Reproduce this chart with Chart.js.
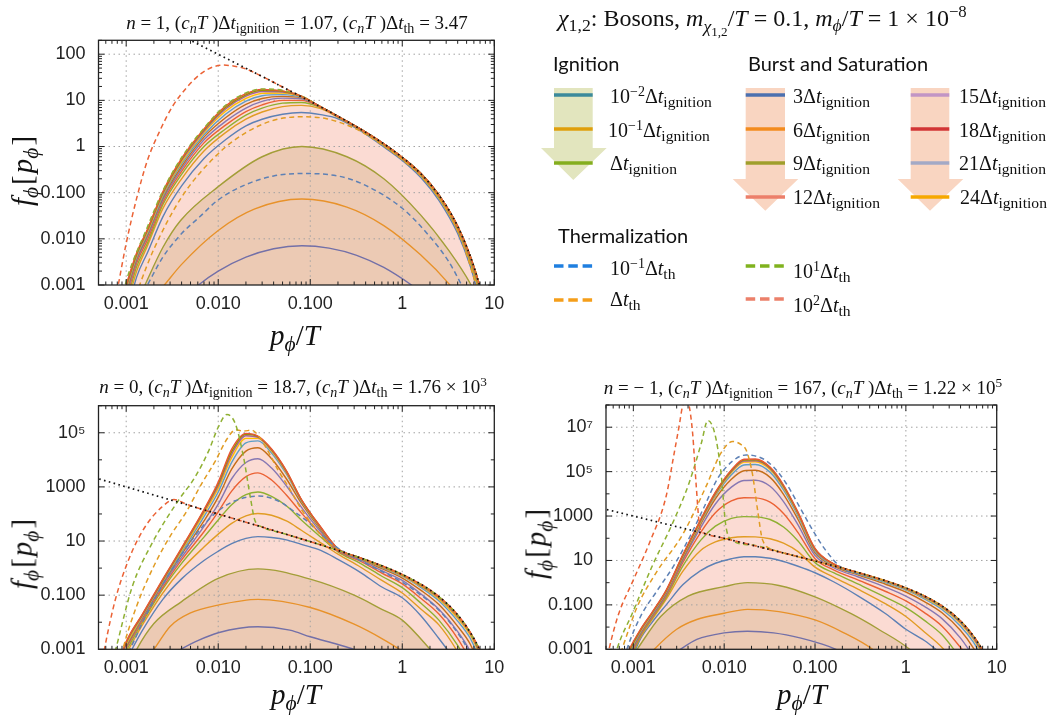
<!DOCTYPE html>
<html>
<head>
<meta charset="utf-8">
<script src="https://cdn.jsdelivr.net/npm/chart.js@4.4.1/dist/chart.umd.min.js"></script>
<style>
  html, body { margin: 0; padding: 0; background: #fff; }
  #page { position: relative; width: 1050px; height: 715px; overflow: hidden;
          font-family: 'Liberation Serif', 'Times New Roman', serif; color: #111; }
  canvas { position: absolute; }
  .t { position: absolute; white-space: nowrap; transform: translate(-50%, -50%); }
  .l { position: absolute; white-space: nowrap; transform: translateY(-50%); }
  .rot { position: absolute; white-space: nowrap; transform: translate(-50%, -50%) rotate(-90deg); }
  sub { font-size: 74%; vertical-align: -0.32em; line-height: 0; }
  sup { font-size: 70%; vertical-align: 0.5em; line-height: 0; }
  .ttl { font-size: 19px; }
  .ax { font-size: 29px; }
  .ax .b { margin: 0 2px; }
  .hd { font-size: 20px; font-family: Lato, 'Open Sans', sans-serif; }
  .lg { font-size: 20px; }
  .lg sub { font-size: 78%; }
  .top { font-size: 24px; }
</style>
</head>
<body>
<div id="page">
  <canvas id="c1" width="510" height="300" style="left:0;top:30px"></canvas>
  <canvas id="c2" width="510" height="285" style="left:0;top:395px"></canvas>
  <canvas id="c3" width="500" height="285" style="left:520px;top:395px"></canvas>

  <!-- panel titles -->
  <div class="t ttl" style="left:297px;top:23px"><i>n</i> = 1, (<i>c</i><sub><i>n</i></sub><i>T</i> )Δ<i>t</i><sub>ignition</sub> = 1.07, (<i>c</i><sub><i>n</i></sub><i>T</i> )Δ<i>t</i><sub>th</sub> = 3.47</div>
  <div class="t ttl" style="left:293px;top:387px"><i>n</i> = 0, (<i>c</i><sub><i>n</i></sub><i>T</i> )Δ<i>t</i><sub>ignition</sub> = 18.7, (<i>c</i><sub><i>n</i></sub><i>T</i> )Δ<i>t</i><sub>th</sub> = 1.76 × 10<sup>3</sup></div>
  <div class="t ttl" style="left:803px;top:388px"><i>n</i> = − 1, (<i>c</i><sub><i>n</i></sub><i>T</i> )Δ<i>t</i><sub>ignition</sub> = 167, (<i>c</i><sub><i>n</i></sub><i>T</i> )Δ<i>t</i><sub>th</sub> = 1.22 × 10<sup>5</sup></div>

  <!-- axis titles -->
  <div class="t ax" style="left:295px;top:335px"><i>p</i><sub><i>ϕ</i></sub>/<i>T</i></div>
  <div class="t ax" style="left:296px;top:694px"><i>p</i><sub><i>ϕ</i></sub>/<i>T</i></div>
  <div class="t ax" style="left:802px;top:694px"><i>p</i><sub><i>ϕ</i></sub>/<i>T</i></div>
  <div class="rot ax" style="left:22px;top:170px"><i>f</i><sub><i>ϕ</i></sub><span class="b">[</span><i>p</i><sub><i>ϕ</i></sub><span class="b">]</span></div>
  <div class="rot ax" style="left:22px;top:553px"><i>f</i><sub><i>ϕ</i></sub><span class="b">[</span><i>p</i><sub><i>ϕ</i></sub><span class="b">]</span></div>
  <div class="rot ax" style="left:536px;top:543px"><i>f</i><sub><i>ϕ</i></sub><span class="b">[</span><i>p</i><sub><i>ϕ</i></sub><span class="b">]</span></div>

  <!-- legend block -->
  <svg style="position:absolute;left:0;top:0" width="1050" height="330">
    <polygon points="554,88 592.7,88 592.7,148 606.7,148 573.3,180 541,148 554,148" fill="#e2e5be"/>
    <polygon points="745.7,88 785,88 785,179 798.3,179 765.3,210.7 732.7,179 745.7,179" fill="#f9d5c1"/>
    <polygon points="910.7,88 949.3,88 949.3,179 963.3,179 930,210.7 897.7,179 910.7,179" fill="#f9d5c1"/>
    <g stroke-width="3.5">
      <line x1="554" x2="592.7" y1="95" y2="95" stroke="#3b8a9b"/>
      <line x1="554" x2="592.7" y1="129" y2="129" stroke="#df9f0c"/>
      <line x1="554" x2="592.7" y1="163" y2="163" stroke="#84ae1e"/>
      <line x1="745.7" x2="785" y1="95" y2="95" stroke="#4c70af"/>
      <line x1="745.7" x2="785" y1="129" y2="129" stroke="#f38b1e"/>
      <line x1="745.7" x2="785" y1="163" y2="163" stroke="#a09f2c"/>
      <line x1="745.7" x2="785" y1="197" y2="197" stroke="#ec7f6a"/>
      <line x1="910.7" x2="949.3" y1="95" y2="95" stroke="#c295c5"/>
      <line x1="910.7" x2="949.3" y1="129" y2="129" stroke="#d23535"/>
      <line x1="910.7" x2="949.3" y1="163" y2="163" stroke="#a3a9c6"/>
      <line x1="910.7" x2="949.3" y1="197" y2="197" stroke="#f6a800"/>
      <g stroke-dasharray="9.5 4.8">
        <line x1="554" x2="593" y1="266" y2="266" stroke="#1f7fe0"/>
        <line x1="554" x2="593" y1="300" y2="300" stroke="#f59e1a"/>
        <line x1="745.7" x2="785" y1="266" y2="266" stroke="#80b21e"/>
        <line x1="745.7" x2="785" y1="299" y2="299" stroke="#ec806a"/>
      </g>
    </g>
  </svg>
  <div class="l top" style="left:558px;top:18px"><i>χ</i><sub>1,2</sub>: Bosons, <i>m</i><sub><i>χ</i><sub>1,2</sub></sub>/<i>T</i> = 0.1, <i>m</i><sub><i>ϕ</i></sub>/<i>T</i> = 1 × 10<sup>−8</sup></div>
  <div class="l hd" style="left:553px;top:63px">Ignition</div>
  <div class="l hd" style="left:748px;top:63px">Burst and Saturation</div>
  <div class="l hd" style="left:558px;top:235px">Thermalization</div>

  <div class="l lg" style="left:610px;top:96px">10<sup>−2</sup>Δ<i>t</i><sub>ignition</sub></div>
  <div class="l lg" style="left:608px;top:130px">10<sup>−1</sup>Δ<i>t</i><sub>ignition</sub></div>
  <div class="l lg" style="left:610px;top:163px">Δ<i>t</i><sub>ignition</sub></div>
  <div class="l lg" style="left:793px;top:96px">3Δ<i>t</i><sub>ignition</sub></div>
  <div class="l lg" style="left:793px;top:130px">6Δ<i>t</i><sub>ignition</sub></div>
  <div class="l lg" style="left:793px;top:163px">9Δ<i>t</i><sub>ignition</sub></div>
  <div class="l lg" style="left:793px;top:197px">12Δ<i>t</i><sub>ignition</sub></div>
  <div class="l lg" style="left:959px;top:96px">15Δ<i>t</i><sub>ignition</sub></div>
  <div class="l lg" style="left:959px;top:130px">18Δ<i>t</i><sub>ignition</sub></div>
  <div class="l lg" style="left:959px;top:163px">21Δ<i>t</i><sub>ignition</sub></div>
  <div class="l lg" style="left:960px;top:197px">24Δ<i>t</i><sub>ignition</sub></div>
  <div class="l lg" style="left:610px;top:268px">10<sup>−1</sup>Δ<i>t</i><sub>th</sub></div>
  <div class="l lg" style="left:610px;top:299px">Δ<i>t</i><sub>th</sub></div>
  <div class="l lg" style="left:793px;top:271px">10<sup>1</sup>Δ<i>t</i><sub>th</sub></div>
  <div class="l lg" style="left:793px;top:305px">10<sup>2</sup>Δ<i>t</i><sub>th</sub></div>
</div>

<script>
// ---------- axis ticks ----------
const xTickVals = [0.001, 0.01, 0.1, 1, 10];
const xTickText = ['0.001', '0.010', '0.100', '1', '10'];
const p1YTickVals = [0.001, 0.01, 0.1, 1, 10, 100];
const p1YTickText = ['0.001', '0.010', '0.100', '1', '10', '100'];
const p2YTickVals = [0.001, 0.1, 10, 1000, 1e5];
const p2YTickText = ['0.001', '0.100', '10', '1000', '10⁵'];
const p3YTickVals = [0.001, 0.1, 10, 1000, 1e5, 1e7];
const p3YTickText = ['0.001', '0.100', '10', '1000', '10⁵', '10⁷'];

// ---------- thermal (black dotted) ----------
const thermal = [[0.0004, 2500], [0.001, 1000], [0.002, 500], [0.005, 200], [0.01, 99.5], [0.02, 49.5],
  [0.05, 19.5], [0.1, 9.5], [0.2, 4.52], [0.3, 2.86], [0.5, 1.54], [0.7, 0.99], [1, 0.582], [1.5, 0.287],
  [2, 0.156], [3, 0.0524], [4, 0.0187], [5, 0.0068], [6, 0.0025], [7, 0.00091], [8, 0.00034]];

// ---------- panel 1 (n = 1) ----------
const p1Ign1 = [[0.005, 0.0007], [0.0061, 0.001], [0.01, 0.002], [0.02, 0.004], [0.04, 0.0061], [0.081, 0.0071],
  [0.16, 0.0063], [0.32, 0.0044], [0.63, 0.0024], [1.26, 0.001], [1.6, 0.0007]];
const p1Ign2 = [[0.002, 0.00054], [0.0026, 0.001], [0.004, 0.0028], [0.01, 0.0152], [0.025, 0.0445], [0.081, 0.0728],
  [0.25, 0.0488], [0.63, 0.0194], [1.58, 0.0045], [3.2, 0.00107], [4, 0.0006]];
const p1Ign3 = [[0.0013, 0.0004], [0.0016, 0.001], [0.0025, 0.0065], [0.0039, 0.025], [0.01, 0.135], [0.03, 0.6],
  [0.081, 1.0], [0.25, 0.6], [0.63, 0.2], [1.58, 0.033], [3.2, 0.0056], [5.6, 0.001], [7, 0.0004]];
const p1ThBlue = [[0.0014, 0.0005], [0.0017, 0.001], [0.0025, 0.004], [0.004, 0.013], [0.0063, 0.03], [0.01, 0.07],
  [0.02, 0.15], [0.04, 0.23], [0.081, 0.26], [0.2, 0.23], [0.36, 0.158], [1, 0.046], [1.93, 0.012], [3.2, 0.0032],
  [4.4, 0.001], [5.2, 0.0005]];
const p1ThOrange = [[0.0012, 0.0004], [0.0014, 0.001], [0.002, 0.006], [0.004, 0.08], [0.01, 0.7], [0.02, 2.0],
  [0.04, 3.7], [0.08, 4.4], [0.15, 4.0], [0.3, 2.5], [0.5, 1.4], [1, 0.52], [2, 0.14], [4, 0.015], [6.3, 0.001], [7, 0.0004]];
const p1ThGreen = [[0.00085, 0.0003], [0.001, 0.0012], [0.0017, 0.018], [0.0025, 0.11], [0.004, 0.58], [0.007, 2.5],
  [0.012, 7.8], [0.02, 14.5], [0.03, 17.6], [0.05, 16.5], [0.08, 12.3], [0.13, 7.2], [0.2, 4.5], [0.5, 1.54],
  [1, 0.58], [2, 0.156], [4, 0.0187], [6, 0.0025], [7, 0.0009], [8, 0.00034]];
const p1ThRed = [[0.0007, 0.0002], [0.00082, 0.001], [0.001, 0.008], [0.0013, 0.076], [0.0017, 0.5], [0.00234, 2.27],
  [0.0032, 7.5], [0.0046, 19.5], [0.0065, 38], [0.0088, 53], [0.0115, 58], [0.015, 55], [0.02, 48], [0.03, 33],
  [0.05, 19.5], [0.1, 9.5], [0.2, 4.5], [0.5, 1.54], [1, 0.58], [2, 0.156], [3, 0.052], [4, 0.0187], [5, 0.0068],
  [6, 0.0025], [7, 0.0009], [8, 0.00034]];
const p1X = [0.0008, 0.001, 0.0013, 0.0017, 0.0025, 0.004, 0.007, 0.012, 0.02, 0.03, 0.05, 0.08, 0.13, 0.2, 0.35,
  0.6, 1, 1.6, 2.5, 4, 5.5, 7, 8];
const p1Burst = [
  [null, 0.0002, 0.0015, 0.005, 0.03, 0.14, 0.55, 1.4, 2.8, 3.9, 5.0, 5.45, 4.9, 4.0, 2.2, 1.05, 0.5, 0.21, 0.068, 0.013, 0.0025, 0.00045, 0.00015],
  [null, 0.0003, 0.002, 0.007, 0.045, 0.2, 0.8, 2.0, 3.9, 5.6, 7.3, 7.8, 6.6, 4.3, 2.3, 1.12, 0.53, 0.23, 0.076, 0.015, 0.003, 0.0006, 0.0002],
  [null, 0.0004, 0.0025, 0.008, 0.055, 0.25, 1.0, 2.4, 4.8, 6.8, 8.7, 9.0, 7.0, 4.4, 2.35, 1.16, 0.55, 0.24, 0.08, 0.016, 0.0034, 0.0007, 0.00022],
  [null, 0.0005, 0.003, 0.0095, 0.062, 0.29, 1.2, 2.9, 5.7, 8.0, 10.0, 10.0, 7.1, 4.45, 2.38, 1.19, 0.56, 0.25, 0.084, 0.017, 0.0037, 0.0008, 0.00026],
  [null, 0.0006, 0.0034, 0.011, 0.07, 0.33, 1.4, 3.5, 6.8, 9.5, 11.2, 10.8, 7.2, 4.5, 2.4, 1.2, 0.57, 0.255, 0.086, 0.0178, 0.0039, 0.00085, 0.0003],
  [null, 0.0007, 0.0037, 0.012, 0.077, 0.37, 1.6, 4.2, 8.2, 11.0, 12.2, 11.3, 7.2, 4.5, 2.4, 1.21, 0.575, 0.257, 0.087, 0.0182, 0.004, 0.00088, 0.00032],
  [null, 0.0008, 0.004, 0.013, 0.083, 0.42, 1.8, 5.0, 9.6, 12.6, 13.3, 11.7, 7.2, 4.5, 2.4, 1.21, 0.578, 0.258, 0.088, 0.0185, 0.0041, 0.0009, 0.00033],
  [null, 0.00085, 0.0043, 0.014, 0.09, 0.46, 2.0, 5.8, 11.0, 14.2, 14.4, 12.0, 7.2, 4.5, 2.4, 1.21, 0.58, 0.26, 0.089, 0.0186, 0.0041, 0.0009, 0.00034],
  [null, 0.0009, 0.0045, 0.015, 0.095, 0.5, 2.15, 6.5, 12.3, 15.5, 15.2, 12.2, 7.2, 4.5, 2.4, 1.22, 0.58, 0.26, 0.089, 0.0187, 0.0041, 0.0009, 0.00034],
  [null, 0.00095, 0.0047, 0.0155, 0.1, 0.53, 2.3, 7.0, 13.2, 16.5, 15.7, 12.3, 7.2, 4.5, 2.4, 1.22, 0.58, 0.26, 0.089, 0.0187, 0.0041, 0.0009, 0.00034],
  [0.0002, 0.001, 0.005, 0.016, 0.105, 0.55, 2.4, 7.5, 14.0, 17.3, 16.0, 12.3, 7.2, 4.5, 2.4, 1.22, 0.58, 0.26, 0.089, 0.0187, 0.0041, 0.0009, 0.00034]
];

// ---------- panel 2 (n = 0) ----------
const p2Ign1 = [[0.003, 0.0006], [0.0039, 0.001], [0.006, 0.0021], [0.01, 0.0041], [0.027, 0.0068], [0.06, 0.0051],
  [0.1, 0.0029], [0.2, 0.0015], [0.295, 0.001], [0.4, 0.0006]];
const p2Ign2 = [[0.0016, 0.0004], [0.002, 0.001], [0.003, 0.007], [0.005, 0.022], [0.01, 0.043], [0.027, 0.07],
  [0.1, 0.035], [0.3, 0.0085], [0.6, 0.0025], [0.93, 0.001], [1.2, 0.0005]];
const p2Ign3 = [[0.0011, 0.0003], [0.0013, 0.001], [0.002, 0.009], [0.004, 0.058], [0.01, 0.42], [0.027, 0.94],
  [0.1, 0.39], [0.3, 0.1], [0.6, 0.03], [1, 0.012], [2, 0.001], [2.5, 0.0004]];
const p2ThBlue = [[0.00095, 0.0004], [0.0011, 0.001], [0.0016, 0.015], [0.0025, 0.25], [0.004, 3.2], [0.007, 40],
  [0.01, 130], [0.015, 300], [0.0275, 460], [0.045, 300], [0.07, 110], [0.095, 50], [0.13, 18], [0.2, 5.5],
  [0.35, 1.9], [0.6, 0.75], [1, 0.3], [1.6, 0.1], [2.5, 0.028], [4, 0.004], [5, 0.0012], [5.5, 0.0006]];
const p2ThOrange = [[0.00085, 0.0003], [0.00092, 0.001], [0.0013, 0.04], [0.002, 1.2], [0.003, 15], [0.0045, 120],
  [0.0065, 1200], [0.0093, 9000], [0.0125, 60000], [0.0155, 130000], [0.019, 115000], [0.023, 125000], [0.028, 70000],
  [0.035, 20000], [0.045, 4000], [0.058, 1000], [0.081, 140], [0.113, 30], [0.16, 8], [0.22, 4.1], [0.35, 2.3],
  [0.6, 1.15], [1, 0.55], [1.6, 0.23], [2.5, 0.085], [4, 0.017], [5.5, 0.0037], [7, 0.0008], [8, 0.0003]];
const p2ThGreen = [[0.00068, 0.0002], [0.00077, 0.001], [0.00116, 0.2], [0.0019, 8], [0.0037, 320], [0.0056, 2300],
  [0.0079, 22000], [0.01, 160000], [0.0124, 470000], [0.0153, 220000], [0.0188, 13000], [0.0223, 425], [0.025, 59],
  [0.03, 33], [0.05, 19.5], [0.1, 9.5], [0.2, 4.5], [0.5, 1.54], [1, 0.58], [2, 0.155], [3, 0.051], [4, 0.0185],
  [5, 0.0067], [6, 0.0024], [7, 0.0009], [8, 0.0003]];
const p2ThRed = [[0.0005, 0.00005], [0.00058, 0.001], [0.00076, 0.066], [0.00106, 2.0], [0.0016, 33], [0.00245, 182],
  [0.0033, 340], [0.0045, 230], [0.006, 165], [0.01, 99], [0.02, 49.5], [0.05, 19.5], [0.1, 9.5], [0.2, 4.5],
  [0.5, 1.54], [1, 0.58], [2, 0.156], [3, 0.052], [4, 0.0187], [5, 0.0068], [6, 0.0025], [7, 0.0009], [8, 0.00034]];
const p2X = [0.0008, 0.001, 0.0015, 0.0025, 0.004, 0.007, 0.01, 0.014, 0.02, 0.027, 0.038, 0.055, 0.08, 0.13, 0.2,
  0.35, 0.6, 1, 1.6, 2.5, 4, 5.5, 7, 8];
const p2Burst = [
  [null, 0.0004, 0.005, 0.07, 0.4, 1.9, 4.2, 8, 12.5, 14.5, 13.5, 11, 7.5, 4.5, 2.1, 0.7, 0.2, 0.08, 0.017, 0.0025, 0.0003, null, null, null],
  [null, 0.0007, 0.008, 0.12, 0.9, 6, 18, 45, 85, 104, 90, 55, 25, 8.5, 3.3, 1.1, 0.35, 0.12, 0.03, 0.008, 0.0008, 0.0001, null, null],
  [null, 0.0009, 0.01, 0.17, 1.5, 14, 60, 220, 520, 650, 450, 200, 60, 14, 4.0, 1.5, 0.5, 0.19, 0.05, 0.012, 0.0014, 0.0002, null, null],
  [null, 0.0011, 0.012, 0.2, 2.0, 22, 120, 700, 2400, 3300, 1800, 500, 110, 18, 4.3, 1.8, 0.65, 0.26, 0.075, 0.02, 0.0025, 0.0004, null, null],
  [null, 0.0012, 0.014, 0.24, 2.5, 35, 230, 2000, 8000, 11000, 5000, 1100, 180, 22, 4.6, 2.0, 0.8, 0.35, 0.11, 0.03, 0.0045, 0.0008, 0.0001, null],
  [null, 0.0013, 0.015, 0.27, 3.2, 55, 420, 4500, 21000, 28000, 11000, 2000, 250, 26, 4.8, 2.2, 0.95, 0.43, 0.15, 0.045, 0.007, 0.0015, 0.0002, null],
  [null, 0.0015, 0.016, 0.3, 3.8, 80, 650, 8000, 42000, 50000, 18000, 3000, 300, 29, 5.0, 2.3, 1.05, 0.5, 0.19, 0.062, 0.011, 0.0025, 0.0004, null],
  [null, 0.0016, 0.017, 0.33, 4.4, 105, 900, 12000, 62000, 62000, 21000, 3400, 320, 30, 5.1, 2.35, 1.1, 0.53, 0.21, 0.072, 0.014, 0.0033, 0.0006, 0.0002],
  [0.0002, 0.0017, 0.018, 0.35, 5.0, 125, 1100, 16000, 78000, 68000, 23000, 3600, 330, 31, 5.15, 2.38, 1.12, 0.55, 0.22, 0.08, 0.016, 0.0037, 0.0007, 0.00025],
  [0.0002, 0.0018, 0.019, 0.37, 5.3, 135, 1300, 20000, 88000, 72000, 24000, 3800, 340, 32, 5.2, 2.4, 1.15, 0.56, 0.23, 0.085, 0.0175, 0.004, 0.0008, 0.0003],
  [0.0002, 0.0019, 0.02, 0.39, 5.6, 145, 1500, 25000, 95000, 75000, 25000, 4000, 350, 33, 5.2, 2.4, 1.2, 0.57, 0.24, 0.088, 0.0187, 0.0041, 0.0009, 0.00034]
];

// ---------- panel 3 (n = -1) ----------
const p3Ign1 = [[0.0026, 0.0005], [0.0033, 0.001], [0.005, 0.0028], [0.01, 0.0055], [0.018, 0.0065], [0.035, 0.0055],
  [0.07, 0.0032], [0.12, 0.0017], [0.17, 0.001], [0.22, 0.0006]];
const p3Ign2 = [[0.0014, 0.0004], [0.0017, 0.001], [0.003, 0.008], [0.005, 0.022], [0.01, 0.042], [0.018, 0.063],
  [0.04, 0.05], [0.1, 0.021], [0.2, 0.006], [0.43, 0.001], [0.55, 0.0004]];
const p3Ign3 = [[0.0009, 0.0003], [0.0011, 0.001], [0.002, 0.03], [0.004, 0.25], [0.01, 0.66], [0.018, 1.0],
  [0.04, 0.75], [0.1, 0.23], [0.25, 0.04], [0.5, 0.008], [1.1, 0.001], [1.3, 0.0005]];
const p3ThBlue = [[0.0008, 0.0004], [0.00085, 0.001], [0.0012, 0.03], [0.0018, 0.4], [0.0028, 6], [0.0042, 120],
  [0.006, 2500], [0.0085, 50000], [0.0124, 300000], [0.0174, 560000], [0.026, 400000], [0.035, 160000], [0.048, 30000],
  [0.07, 2000], [0.094, 235], [0.13, 30], [0.2, 4.4], [0.35, 2.3], [0.6, 1.15], [1, 0.55], [1.6, 0.23], [2.5, 0.083],
  [4, 0.017], [5.5, 0.0037], [7, 0.0008], [8, 0.0003]];
const p3ThOrange = [[0.00068, 0.0003], [0.00075, 0.001], [0.0011, 0.08], [0.0018, 3], [0.0035, 150], [0.0063, 21000],
  [0.0092, 680000], [0.0124, 2300000], [0.0155, 1600000], [0.0174, 960000], [0.0204, 85000], [0.0233, 1900],
  [0.0265, 83], [0.035, 30], [0.05, 19.5], [0.1, 9.5], [0.2, 4.5], [0.5, 1.54], [1, 0.58], [2, 0.156], [3, 0.052],
  [4, 0.0187], [5, 0.0068], [6, 0.0025], [7, 0.0009], [8, 0.00034]];
const p3ThGreen = [[0.0006, 0.0002], [0.00066, 0.001], [0.00097, 0.04], [0.0016, 5.2], [0.0027, 470], [0.0041, 30000],
  [0.0056, 1900000], [0.0066, 20000000], [0.0079, 5000000], [0.0092, 100000], [0.0104, 400], [0.012, 83], [0.02, 49.5],
  [0.05, 19.5], [0.1, 9.5], [0.2, 4.5], [0.5, 1.54], [1, 0.58], [2, 0.156], [3, 0.052], [4, 0.0187], [5, 0.0068],
  [6, 0.0025], [7, 0.0009], [8, 0.00034]];
const p3ThRed = [[0.0005, 0.0002], [0.00054, 0.001], [0.00069, 0.04], [0.00097, 1], [0.0015, 60], [0.0023, 8000],
  [0.0028, 600000], [0.0032, 12000000], [0.0035, 100000000], [0.0038, 200000000], [0.0041, 100000000],
  [0.0045, 5000000], [0.0049, 30000], [0.0054, 300], [0.006, 170], [0.01, 99.5], [0.02, 49.5], [0.05, 19.5],
  [0.1, 9.5], [0.2, 4.5], [0.5, 1.54], [1, 0.58], [2, 0.156], [3, 0.052], [4, 0.0187], [5, 0.0068], [6, 0.0025],
  [7, 0.0009], [8, 0.00034]];
const p3X = [0.0007, 0.0009, 0.0012, 0.0016, 0.0023, 0.0035, 0.0055, 0.008, 0.012, 0.0165, 0.022, 0.032, 0.045,
  0.065, 0.1, 0.16, 0.3, 0.6, 1, 1.6, 2.5, 4, 5.5, 7, 8];
const p3Burst = [
  [null, 0.0002, 0.003, 0.016, 0.1, 0.8, 3.5, 7.5, 12, 14.8, 14.8, 12.5, 9, 5.5, 2.8, 1.1, 0.25, 0.04, 0.008, 0.0025, 0.0006, null, null, null, null],
  [null, 0.0003, 0.0035, 0.021, 0.18, 3.2, 28, 68, 105, 117, 115, 95, 60, 25, 5, 1.8, 0.5, 0.11, 0.03, 0.006, 0.0012, 0.0001, null, null, null],
  [null, 0.0003, 0.004, 0.024, 0.22, 5.5, 80, 350, 780, 940, 920, 700, 320, 75, 8, 2.8, 0.85, 0.22, 0.075, 0.02, 0.0045, 0.0004, null, null, null],
  [null, 0.0004, 0.0045, 0.027, 0.26, 8, 180, 1400, 4800, 6700, 6600, 4200, 1300, 180, 12, 3.8, 1.3, 0.4, 0.15, 0.045, 0.011, 0.0012, 0.0002, null, null],
  [null, 0.0005, 0.005, 0.03, 0.3, 10, 300, 3500, 20000, 40000, 41000, 22000, 4500, 400, 17, 4.7, 1.8, 0.62, 0.25, 0.085, 0.024, 0.0032, 0.0005, null, null],
  [null, 0.0006, 0.0055, 0.033, 0.34, 12, 420, 6000, 45000, 110000, 115000, 55000, 9500, 700, 22, 5.6, 2.2, 0.85, 0.38, 0.14, 0.044, 0.007, 0.0012, 0.0002, null],
  [null, 0.0007, 0.006, 0.036, 0.37, 14, 500, 8000, 72000, 200000, 210000, 95000, 15000, 1000, 26, 6.2, 2.45, 1.0, 0.47, 0.185, 0.062, 0.011, 0.0022, 0.0004, null],
  [null, 0.0008, 0.0065, 0.039, 0.4, 15, 550, 9000, 90000, 270000, 280000, 125000, 19000, 1200, 29, 6.6, 2.6, 1.1, 0.52, 0.21, 0.074, 0.0145, 0.003, 0.0006, 0.0002],
  [null, 0.00085, 0.007, 0.041, 0.42, 16, 600, 10000, 100000, 300000, 310000, 140000, 21000, 1300, 31, 6.8, 2.7, 1.15, 0.54, 0.225, 0.08, 0.016, 0.0034, 0.0007, 0.00025],
  [null, 0.0009, 0.0075, 0.043, 0.44, 17, 650, 11000, 110000, 330000, 340000, 150000, 23000, 1400, 33, 7, 2.75, 1.18, 0.56, 0.235, 0.085, 0.0175, 0.0038, 0.0008, 0.0003],
  [0.0001, 0.001, 0.008, 0.045, 0.46, 18, 700, 12000, 120000, 360000, 370000, 160000, 25000, 1500, 35, 7, 2.8, 1.2, 0.57, 0.24, 0.088, 0.0187, 0.0041, 0.0009, 0.00034]
];

// ---------- colours ----------
const burstColors = ['#5e81b5', '#e19c24', '#8fb032', '#eb6235', '#8778b3', '#c56e1a', '#5d9ec7', '#ffbf00',
  '#a5609d', '#929600', '#e95536'];
const ignColors = ['#7370a8', '#e8922a', '#a39e38'];
const thColors = { blue: '#5e81b5', orange: '#e19c24', green: '#8fb032', red: '#eb6235' };
const pinkFill = 'rgba(244, 160, 140, 0.38)';
const tanFill = 'rgba(190, 180, 120, 0.36)';

// ---------- helpers ----------
function pairs(list) { return list.map(p => ({ x: p[0], y: p[1] })); }
function onGrid(xs, ys) { return xs.map((x, i) => ({ x: x, y: ys[i] })); }

function solid(data, color, extra) {
  return Object.assign({ data: data, borderColor: color, borderWidth: 1.4, pointRadius: 0, fill: false }, extra || {});
}
function dashed(data, color) {
  return solid(data, color, { borderDash: [5, 3.5], borderWidth: 1.5 });
}

function minorTicks(min, max, everyDecadeOnly) {
  const out = [];
  for (let k = -5; k <= 9; k++) {
    const steps = everyDecadeOnly ? [1] : [1, 2, 3, 4, 5, 6, 7, 8, 9];
    steps.forEach(m => {
      const v = m * Math.pow(10, k);
      if (v >= min * 0.999 && v <= max * 1.001) out.push(v);
    });
  }
  return out;
}

// grid, frame and inward ticks like the original frame
const frameTicks = {
  id: 'frameTicks',
  beforeDatasetsDraw(chart, args, o) {
    const { ctx, chartArea: a, scales: { x, y } } = chart;
    ctx.save();
    ctx.strokeStyle = '#a2a2a2';
    ctx.lineWidth = 1;
    ctx.setLineDash([1.5, 3.5]);
    o.xMajor.forEach(v => {
      const px = x.getPixelForValue(v);
      if (px < a.left + 1 || px > a.right - 1) return;
      ctx.beginPath(); ctx.moveTo(px, a.top); ctx.lineTo(px, a.bottom); ctx.stroke();
    });
    o.yMajor.forEach(v => {
      const py = y.getPixelForValue(v);
      if (py < a.top + 1 || py > a.bottom - 1) return;
      ctx.beginPath(); ctx.moveTo(a.left, py); ctx.lineTo(a.right, py); ctx.stroke();
    });
    ctx.restore();
  },
  afterDraw(chart, args, o) {
    const { ctx, chartArea: a, scales: { x, y } } = chart;
    ctx.save();
    ctx.strokeStyle = '#222';
    ctx.lineWidth = 1;
    const tick = (x1, y1, x2, y2) => { ctx.beginPath(); ctx.moveTo(x1, y1); ctx.lineTo(x2, y2); ctx.stroke(); };
    o.xMinor.forEach(v => {
      const px = x.getPixelForValue(v);
      const len = o.xMajor.some(m => Math.abs(m - v) / v < 1e-6) ? 6 : 3.5;
      tick(px, a.bottom, px, a.bottom - len);
      tick(px, a.top, px, a.top + len);
    });
    o.yMinor.forEach(v => {
      const py = y.getPixelForValue(v);
      const len = o.yMajor.some(m => Math.abs(m - v) / v < 1e-6) ? 6 : 3.5;
      tick(a.left, py, a.left + len, py);
      tick(a.right, py, a.right - len, py);
    });
    ctx.lineWidth = 1.3;
    ctx.strokeRect(a.left, a.top, a.right - a.left, a.bottom - a.top);
    ctx.restore();
  }
};

function makePanel(id, cfg) {
  const tickFont = { family: "'Liberation Sans', Arial, sans-serif", size: 18 };
  return new Chart(document.getElementById(id), {
    type: 'line',
    data: { datasets: cfg.datasets },
    plugins: [frameTicks],
    options: {
      responsive: false,
      animation: false,
      layout: { padding: { left: 0, top: cfg.padTop, right: cfg.padRight, bottom: 0 } },
      elements: { point: { radius: 0 }, line: { cubicInterpolationMode: 'monotone', capBezierPoints: false } },
      plugins: {
        legend: { display: false },
        tooltip: { enabled: false },
        filler: { drawTime: 'beforeDatasetsDraw' },
        frameTicks: {
          xMajor: xTickVals, xMinor: minorTicks(cfg.xMin, cfg.xMax, false),
          yMajor: cfg.yTicks, yMinor: minorTicks(cfg.yMin, cfg.yMax, cfg.yDecadesOnly)
        }
      },
      scales: {
        x: {
          type: 'logarithmic', min: cfg.xMin, max: cfg.xMax,
          grid: { display: false }, border: { display: false },
          afterBuildTicks: s => { s.ticks = xTickVals.map(v => ({ value: v })); },
          afterFit: s => { s.height = cfg.xAxisH; s.paddingLeft = 0; s.paddingRight = 0; },
          ticks: { autoSkip: false, maxRotation: 0, padding: 0, color: '#222', font: tickFont,
                   callback: (v, i) => xTickText[i] }
        },
        y: {
          type: 'logarithmic', min: cfg.yMin, max: cfg.yMax,
          grid: { display: false }, border: { display: false },
          afterBuildTicks: s => { s.ticks = cfg.yTicks.map(v => ({ value: v })); },
          afterFit: s => { s.width = cfg.yAxisW; s.paddingTop = 0; s.paddingBottom = 0; },
          ticks: { autoSkip: false, padding: 5, color: '#222', font: tickFont,
                   callback: (v, i) => cfg.yText[i] }
        }
      }
    }
  });
}

function panelDatasets(p) {
  const sets = [];
  sets.push(solid(pairs(thermal), '#111', { borderDash: [1.6, 3.4], borderWidth: 1.7 }));
  sets.push(dashed(pairs(p.thRed), thColors.red));
  sets.push(dashed(pairs(p.thGreen), thColors.green));
  sets.push(dashed(pairs(p.thOrange), thColors.orange));
  sets.push(dashed(pairs(p.thBlue), thColors.blue));
  for (let i = p.burst.length - 1; i >= 0; i--) {
    const extra = i === p.burst.length - 1 ? { fill: 'start', backgroundColor: pinkFill } : {};
    sets.push(solid(onGrid(p.x, p.burst[i]), burstColors[i], extra));
  }
  sets.push(solid(pairs(p.ign[2]), ignColors[2], { fill: 'start', backgroundColor: tanFill }));
  sets.push(solid(pairs(p.ign[1]), ignColors[1]));
  sets.push(solid(pairs(p.ign[0]), ignColors[0]));
  return sets;
}

makePanel('c1', {
  datasets: panelDatasets({ x: p1X, burst: p1Burst, ign: [p1Ign1, p1Ign2, p1Ign3],
    thBlue: p1ThBlue, thOrange: p1ThOrange, thGreen: p1ThGreen, thRed: p1ThRed }),
  xMin: 0.0005, xMax: 10, yMin: 0.001, yMax: 200,
  yTicks: p1YTickVals, yText: p1YTickText, yDecadesOnly: false,
  padTop: 10.3, padRight: 15.7, yAxisW: 98.5, xAxisH: 45
});
makePanel('c2', {
  datasets: panelDatasets({ x: p2X, burst: p2Burst, ign: [p2Ign1, p2Ign2, p2Ign3],
    thBlue: p2ThBlue, thOrange: p2ThOrange, thGreen: p2ThGreen, thRed: p2ThRed }),
  xMin: 0.0005, xMax: 10, yMin: 0.001, yMax: 1e6,
  yTicks: p2YTickVals, yText: p2YTickText, yDecadesOnly: true,
  padTop: 10.7, padRight: 15.7, yAxisW: 98.5, xAxisH: 30.7
});
makePanel('c3', {
  datasets: panelDatasets({ x: p3X, burst: p3Burst, ign: [p3Ign1, p3Ign2, p3Ign3],
    thBlue: p3ThBlue, thOrange: p3ThOrange, thGreen: p3ThGreen, thRed: p3ThRed }),
  xMin: 0.0005, xMax: 10, yMin: 0.001, yMax: 1e8,
  yTicks: p3YTickVals, yText: p3YTickText, yDecadesOnly: true,
  padTop: 10, padRight: 23.3, yAxisW: 86, xAxisH: 30.7
});
</script>
</body>
</html>
